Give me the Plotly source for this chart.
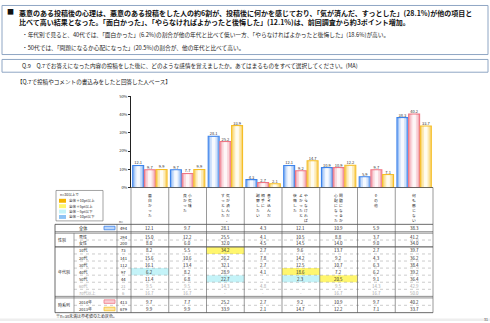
import plotly.graph_objects as go

W, H = 490, 323
FONT = "Noto Sans CJK JP"

# ---------------- data ----------------
categories = ["面白かった", "小気味良かった", "気が済んだ、すっとした", "書き込んだ相手に謝罪したい",
              "やらなければよかったと後悔した", "問題になるか心配になった", "その他", "何も感じない"]
category_columns = [["面白かった"], ["小気味", "良かった"], ["気が済んだ、", "すっとした"],
                    ["書き込んだ", "相手に", "謝罪したい"], ["やらなければ", "よかったと", "後悔した"],
                    ["問題になるか", "心配になった"], ["その他"], ["何も感じない"]]
series_names = ["全体", "2014年", "2013年"]
total = [12.1, 9.7, 28.1, 4.3, 12.1, 10.9, 5.9, 38.3]
y2014 = [9.7, 7.7, 25.2, 2.7, 9.2, 10.9, 9.7, 40.2]
y2013 = [9.9, 9.9, 33.9, 2.1, 14.7, 12.2, 7.1, 33.7]
y_ticks = [0, 10, 20, 30, 40, 50]

row_groups = ["", "性別", "性別", "年代別", "年代別", "年代別", "年代別", "年代別", "年代別", "年代別", "時系列", "時系列"]
row_labels = ["全体", "男性", "女性", "10代", "20代", "30代", "40代", "50代", "60代", "70代以上", "2014年", "2013年"]
row_n = [494, 294, 200, 73, 141, 112, 97, 44, 21, 6, 413, 679]
table_values = [
    ["12.1", "9.7", "28.1", "4.3", "12.1", "10.9", "5.9", "38.3"],
    ["15.0", "12.2", "25.5", "4.1", "10.5", "8.8", "3.7", "41.2"],
    ["8.0", "6.0", "32.0", "4.5", "14.5", "14.0", "9.0", "34.0"],
    ["8.2", "5.5", "34.2", "2.7", "9.6", "13.7", "2.7", "39.7"],
    ["15.6", "10.6", "26.2", "7.8", "14.2", "9.2", "4.3", "36.2"],
    ["16.1", "13.4", "32.1", "2.7", "12.5", "10.7", "6.3", "38.4"],
    ["6.2", "8.2", "28.9", "4.1", "18.6", "7.2", "6.2", "39.2"],
    ["11.4", "6.8", "22.7", "-", "2.3", "20.5", "9.1", "36.4"],
    ["9.5", "9.5", "14.3", "4.8", "-", "9.5", "14.3", "42.9"],
    ["16.7", "16.7", "-", "-", "-", "16.7", "16.7", "50.0"],
    ["9.7", "7.7", "25.2", "2.7", "9.2", "10.9", "9.7", "40.2"],
    ["9.9", "9.9", "33.9", "2.1", "14.7", "12.2", "7.1", "33.7"],
]
legend_title = "n=30以上で"
legend_items = ["全体＋10pt以上", "全体＋5pt以上", "全体－5pt以下", "全体－10pt以下"]

header_lines = [
    "■",
    "悪意のある投稿後の心理は、悪意のある投稿をした人の約6割が、投稿後に何かを感じており、「気が済んだ、すっとした」(28.1%)が他の項目と",
    "比べて高い結果となった。「面白かった」、「やらなければよかったと後悔した」(12.1%)は、前回調査から約3ポイント増加。",
    "・年代別で見ると、40代では、「面白かった」(6.2%)の割合が他の年代と比べて低い一方、「やらなければよかったと後悔した」(18.6%)が高い。",
    "・50代では、「問題になるか心配になった」(20.5%)の割合が、他の年代と比べて高い。",
]
question = "Q.9　Q.7でお答えになった内容の投稿をした後に、どのような感情を覚えましたか。あてはまるものをすべて選択してください。(MA)"
base_note = "【Q.7で投稿やコメントの書込みをしたと回答した人ベース】"
footnote = "※n=30未満は参考値のため灰色。"
page_no = "31"

# ---------------- helpers ----------------
def px(x): return x / W
def py(y): return 1 - y / H

shapes, annotations = [], []

def rect(x0, y0, x1, y1, fill="rgba(0,0,0,0)", line=None, lw=0.8):
    shapes.append(dict(type="rect", xref="paper", yref="paper", x0=px(x0), x1=px(x1),
                       y0=py(y1), y1=py(y0), fillcolor=fill,
                       line=dict(color=line or "rgba(0,0,0,0)", width=lw if line else 0)))

def seg(x0, y0, x1, y1, color="#555", lw=0.6, dash="solid"):
    shapes.append(dict(type="line", xref="paper", yref="paper", x0=px(x0), x1=px(x1),
                       y0=py(y0), y1=py(y1), line=dict(color=color, width=lw, dash=dash)))

def text(x, y, s, size, color="#222", xanchor="center", bold=False, yanchor="middle", align="center"):
    annotations.append(dict(x=px(x), y=py(y), xref="paper", yref="paper", text=(f"<b>{s}</b>" if bold else s),
                            showarrow=False, xanchor=xanchor, yanchor=yanchor, borderpad=0, align=align,
                            font=dict(family=FONT, size=size, color=color)))

# ---------------- header boxes ----------------
rect(2, 1.5, 488, 51.5, line="#8FA6C4", lw=1)
text(6, 7.4, header_lines[0], 7, "#111", "left", True)
text(18, 2.8, "<b>" + header_lines[1] + "</b><br><b>" + header_lines[2] + "</b>", 7, "#111", "left",
     yanchor="top", align="left")
text(21, 31.5, header_lines[3], 5.7, "#222", "left")
text(21, 44, header_lines[4], 5.7, "#222", "left")
rect(2, 56.5, 488, 69.5, line="#8FA6C4", lw=1)
text(21, 63, question, 5.6, "#222", "left")
text(16, 79.5, base_note, 5.6, "#222", "left")

# ---------------- chart geometry ----------------
X0, X1 = 131, 433
Y0, Y50 = 187, 94
ncat = len(categories)
cw = (X1 - X0) / ncat

# vertical category labels (one stacked text per column, right-to-left)
for i, cols in enumerate(category_columns):
    cx = X0 + cw * (i + 0.5)
    nc = len(cols)
    for j, col in enumerate(cols):
        x = cx + (nc - 1) / 2 * 5.6 - j * 5.6
        text(x, 191.2, "<br>".join(col), 3.8, "#222", "center", yanchor="top")

# ---------------- table ----------------
row_tops = [224.5, 233.5, 240.5] + [247.5 + 7.2 * k for k in range(7)] + [299.5, 307]
row_bots = [232, 240.5, 247.5] + [254.7 + 7.2 * k for k in range(7)] + [307, 314.5]
TL, TG, TN, TB = 55, 74, 117, 433

# highlight cells
fill_p10, fill_p5, fill_m5, fill_m10 = "#F5B400", "#FFF66E", "#C4F3F8", "#8DC3F5"
base_vals = [float(v) for v in table_values[0]]
for r in range(1, len(row_labels)):
    if row_groups[r] == "時系列" or row_n[r] < 30:
        continue
    for c in range(ncat):
        s = table_values[r][c]
        v = 0.0 if s == "-" else float(s)
        d = v - base_vals[c]
        col = None
        if d >= 10: col = fill_p10
        elif d >= 5: col = fill_p5
        elif d <= -10: col = fill_m10
        elif d <= -5: col = fill_m5
        if col:
            rect(X0 + cw * c, row_tops[r], X0 + cw * (c + 1), row_bots[r], fill=col)

# lines
seg(X0, Y0, X1, Y0, "#444", 0.8)
seg(TL, 224.5, TB, 224.5, "#444", 0.8)
seg(TL, 232, TB, 232, "#444", 0.6)
seg(TL, 233.5, TB, 233.5, "#444", 0.6)
seg(TG, 240.5, TB, 240.5, "#999", 0.5, "dot")
seg(TL, 247.5, TB, 247.5, "#444", 1)
for k in range(1, 7):
    yy = 247.5 + 7.2 * k
    seg(TG, yy, TB, yy, "#999", 0.5, "dot")
seg(TL, 297.9, TB, 297.9, "#444", 0.6)
seg(TL, 299.5, TB, 299.5, "#444", 0.6)
seg(TG, 307, TB, 307, "#999", 0.5, "dot")
seg(TL, 314.5, TB, 314.5, "#444", 0.8)
seg(TL, 224.5, TL, 314.5, "#444", 0.8)
seg(TG, 233.5, TG, 314.5, "#666", 0.6)
seg(TN, 224.5, TN, 314.5, "#666", 0.6)
for c in range(ncat + 1):
    seg(X0 + cw * c, Y0, X0 + cw * c, 314.5, "#555", 0.6)
text(121, 221.6, "n=", 3.4, "#333")

# row texts
swatch = {"全体": ("#3C83EB", "#BCD6F9"), "2014年": ("#F07A88", "#F9CDD3"), "2013年": ("#F6C12D", "#FCE5A4")}
for r, lab in enumerate(row_labels):
    yc = (row_tops[r] + row_bots[r]) / 2
    gray = row_n[r] < 30
    tc = "#A6A6A6" if gray else "#222"
    if r == 0:
        text(83, yc, lab, 4.2, "#222")
    else:
        text(78, yc, lab, 4.0, tc, "left")
    if lab in swatch:
        e, f = swatch[lab]
        rect(104, yc - 1.8, 115, yc + 1.8, fill=f, line=e, lw=0.8)
    text((TN + X0) / 2, yc, str(row_n[r]), 4.2, tc)
    for c in range(ncat):
        text(X0 + cw * (c + 0.5), yc, table_values[r][c], 4.4, tc)

# group labels
for g in ["性別", "年代別", "時系列"]:
    idx = [i for i, gg in enumerate(row_groups) if gg == g]
    yc = (row_tops[idx[0]] + row_bots[idx[-1]]) / 2
    text(57, yc, g, 4.0, "#222", "left")

# legend box
rect(56, 190, 103, 221, fill="white", line="#666", lw=0.6)
text(59, 194.3, legend_title, 3.6, "#222", "left")
for k, (lab, col) in enumerate(zip(legend_items, [fill_p10, fill_p5, fill_m5, fill_m10])):
    yy = 200.5 + 5.5 * k
    rect(59, yy - 2, 66, yy + 2, fill=col)
    text(68, yy, lab, 3.6, "#222", "left")

text(55, 318.3, footnote, 4.0, "#222", "left")
rect(0, 320.5, 490, 323, fill="#EEEEEE")
text(486, 321.6, page_no, 3.4, "#333")

# ---------------- bars ----------------
fig = go.Figure()
palettes = [
    ("#3C83EB", "#93BBF4", "#CFE1FB", "#F6F9FE"),
    ("#EF7584", "#F4AEB8", "#F9D7DC", "#FEF6F7"),
    ("#F5BE28", "#FAD879", "#FCEBB8", "#FFFCF0"),
]
offsets = [-0.455, -0.145, 0.165]
bw = 0.29
xs = list(range(ncat))
for vals, pal, off, name in zip([total, y2014, y2013], palettes, offsets, series_names):
    fig.add_bar(x=xs, y=vals, offset=off, width=bw, name=name,
                marker=dict(color=pal[1], line=dict(color=pal[0], width=1.1)), hoverinfo="skip")
    inner = [max(v - 0.4, 0) for v in vals]
    fig.add_bar(x=xs, y=inner, offset=off + bw * 0.17, width=bw * 0.66,
                marker=dict(color=pal[2], line=dict(width=0)), hoverinfo="skip")
    fig.add_bar(x=xs, y=inner, offset=off + bw * 0.34, width=bw * 0.32,
                marker=dict(color=pal[3], line=dict(width=0)), hoverinfo="skip")
    fig.add_scatter(x=[i + off + bw / 2 for i in xs], y=vals, mode="text",
                    text=[f"{v:.1f}" for v in vals], textposition="top center",
                    textfont=dict(family=FONT, size=4, color="#333"), hoverinfo="skip", cliponaxis=False)

fig.update_layout(
    width=W, height=H, autosize=False, margin=dict(l=0, r=0, t=0, b=0),
    paper_bgcolor="white", plot_bgcolor="white", showlegend=False, barmode="overlay",
    shapes=shapes, annotations=annotations,
    xaxis=dict(domain=[px(X0), px(X1)], range=[-0.5, ncat - 0.5], showticklabels=False,
               showgrid=False, zeroline=False, showline=False, ticks=""),
    yaxis=dict(domain=[py(Y0), py(Y50)], range=[0, 50], tickvals=y_ticks,
               ticktext=[f"{t}%" for t in y_ticks], showgrid=False, zeroline=False,
               showline=True, linecolor="#222", linewidth=0.8, ticks="outside", ticklen=2,
               tickcolor="#222", tickwidth=0.6, tickfont=dict(family=FONT, size=4, color="#333")),
)

fig.write_html("out.html", config={"displayModeBar": False})
